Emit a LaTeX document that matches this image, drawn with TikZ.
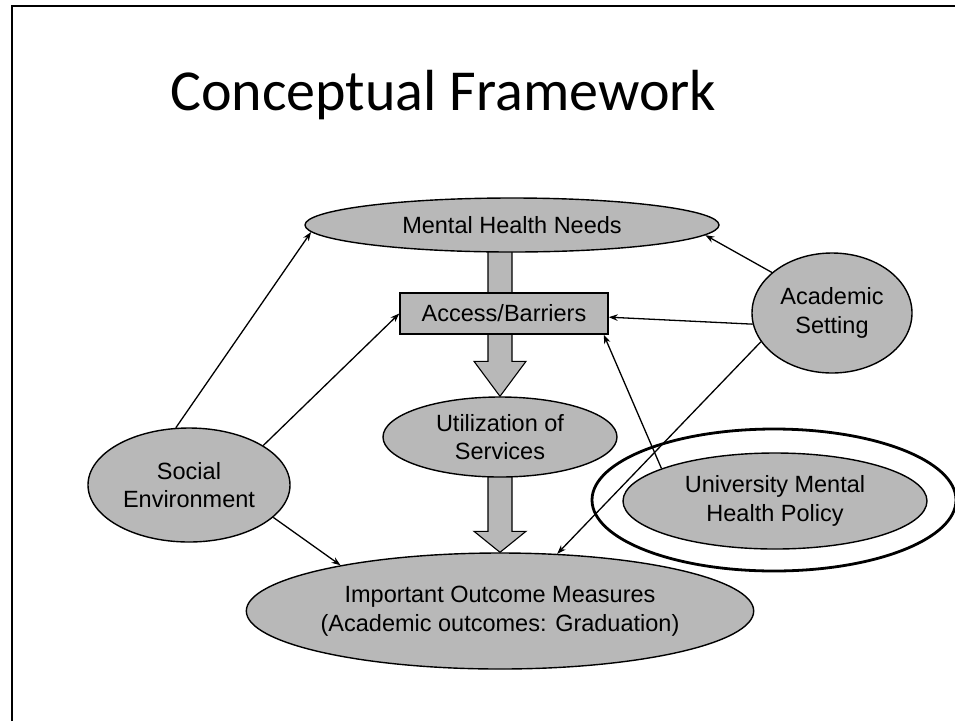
\documentclass[tikz,border=0pt]{standalone}
\usepackage{fontspec}
\setmainfont{Liberation Sans}
\newfontfamily\titlefont{Carlito}
\usetikzlibrary{shapes.geometric,arrows.meta,calc,backgrounds}
\definecolor{boxgray}{gray}{0.72}
\begin{document}
\begin{tikzpicture}[x=1pt,y=-1pt,
  every node/.style={font=\fontsize{23.5}{28.5}\selectfont, align=center, inner sep=0pt},
  oval/.style={ellipse, draw=black, line width=1.4pt, fill=boxgray},
  link/.style={-{Stealth[length=9pt,width=6.5pt]}, line width=1.3pt},
  blockarrow/.style={draw=black, line width=1.1pt, fill=boxgray, line join=miter}]
\useasboundingbox (0,0) rectangle (955,721);
% slide frame
\coordinate (fbl) at (12,721);
\coordinate (ftl) at (12,6);
\coordinate (ftr) at (955,6);
\draw[line width=2.5pt] (fbl) -- (ftl) -- (ftr);
% title
\node[anchor=base west, font=\titlefont\fontsize{58}{62}\selectfont] (title) at (170,110) {Conceptual Framework};
% nodes
\node[oval, minimum width=414pt, minimum height=54pt] (mhn) at (512,225) {Mental Health Needs};
\node[draw=black, line width=1.4pt, fill=boxgray, minimum width=208pt, minimum height=41pt] (acc) at (504,313.5) {Access/Barriers};
\node[oval, minimum width=234pt, minimum height=80pt] (uti) at (500,437) {Utilization of\\Services};
\node[oval, minimum width=470pt, minimum height=116pt] (iom) at (500,611) {Important Outcome Measures\\(Academic outcomes: Graduation)};
\node[oval, minimum width=202pt, minimum height=114pt] (soc) at (189,485) {Social\\Environment};
\node[oval, minimum width=160pt, minimum height=120pt] (acs) at (832,313) {Academic\\Setting};
\node[oval, minimum width=304pt, minimum height=96pt] (umh) at (775,501) {University Mental\\Health Policy};
\node[ellipse, draw=black, line width=2.8pt, minimum width=364pt, minimum height=142pt] (ring) at (774,500) {};
% block arrows
\begin{scope}[on background layer]
\draw[blockarrow] (uti.north) -- ++(-26,-35) -- ++(14,0)
  |- ($(uti.north |- mhn.south)+(12,-5)$) -- ($(uti.north)+(12,-35)$) -- ++(14,0) -- cycle;
\draw[blockarrow] (iom.north) -- ++(-26,-21) -- ++(14,0)
  |- ($(iom.north |- uti.south)+(12,-5)$) -- ($(iom.north)+(12,-21)$) -- ++(14,0) -- cycle;
\end{scope}
% connectors
\draw[link] (soc.103) -- (mhn.182);
\draw[link] (soc.28) -- (acc.west);
\draw[link] (soc.-21) -- (iom.164.4);
\draw[link] (acs.146) -- (mhn.-3.5);
\draw[link] (acs.188) -- (acc.-2.5);
\draw[link] (acs.202) -- (iom.45.5);
\draw[link] (umh.164) -- (acc.-12.6);
\end{tikzpicture}
\end{document}
